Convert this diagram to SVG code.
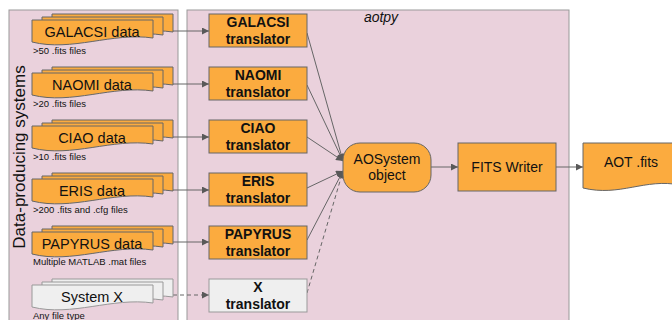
<svg xmlns="http://www.w3.org/2000/svg" xmlns:xlink="http://www.w3.org/1999/xlink" width="672" height="320" viewBox="0 0 672 320">
<style>
text{font-family:"Liberation Sans",Arial,sans-serif;fill:#111}
.panel{fill:#ead1dc;stroke:#999;stroke-width:1}
.or{fill:#fbab3f;stroke:#666;stroke-width:1}
.gr{fill:#efefef;stroke:#999;stroke-width:1}
.lbl{font-size:14px;text-anchor:middle}
.b{font-size:14px;font-weight:bold;text-anchor:middle}
.cap{font-size:9.5px}
.ln{fill:none;stroke:#666;stroke-width:1}
.dash{stroke-dasharray:4 3}
</style>
<defs>
<path id="doc" d="M0,0 H121 V18 C80,12 40,32 0,22 Z"/>
<marker id="ah" viewBox="0 0 10 10" refX="10" refY="5" markerWidth="8" markerHeight="7" markerUnits="userSpaceOnUse" orient="auto"><path d="M0,0 L10,5 L0,10 Z" fill="#595959"/></marker>
</defs>
<rect class="panel" x="9" y="10" width="169" height="320"/>
<rect class="panel" x="187" y="10" width="382" height="320"/>
<text x="25" y="157" transform="rotate(-90 25 157)" style="font-size:17px;text-anchor:middle">Data-producing systems</text>
<text x="381" y="22" style="font-size:14px;font-style:italic;text-anchor:middle">aotpy</text>

<g id="connectors">
<line class="ln" x1="173" y1="31" x2="209" y2="31" marker-end="url(#ah)"/>
<line class="ln" x1="173" y1="84" x2="209" y2="84" marker-end="url(#ah)"/>
<line class="ln" x1="173" y1="137" x2="209" y2="137" marker-end="url(#ah)"/>
<line class="ln" x1="173" y1="190" x2="209" y2="190" marker-end="url(#ah)"/>
<line class="ln" x1="173" y1="242" x2="209" y2="242" marker-end="url(#ah)"/>
<line class="ln dash" x1="173" y1="295" x2="209" y2="295" marker-end="url(#ah)"/>
<line class="ln" x1="307" y1="33" x2="343" y2="161" marker-end="url(#ah)"/>
<line class="ln" x1="307" y1="85" x2="343" y2="161" marker-end="url(#ah)"/>
<line class="ln" x1="307" y1="137" x2="343" y2="161" marker-end="url(#ah)"/>
<line class="ln" x1="307" y1="188" x2="343" y2="171" marker-end="url(#ah)"/>
<line class="ln" x1="307" y1="240" x2="343" y2="171" marker-end="url(#ah)"/>
<line class="ln dash" x1="307" y1="293" x2="343" y2="171" marker-end="url(#ah)"/>
<line class="ln" x1="431" y1="167" x2="458" y2="167" marker-end="url(#ah)"/>
<line class="ln" x1="556" y1="167" x2="583" y2="167" marker-end="url(#ah)"/>
</g>

<g id="galacsi-data">
<use xlink:href="#doc" class="or" x="52" y="14"/><use xlink:href="#doc" class="or" x="42" y="17"/><use xlink:href="#doc" class="or" x="32" y="20"/>
<text class="lbl" x="92" y="37" style="font-size:14.5px">GALACSI data</text>
<text class="cap" x="33" y="54">&gt;50 .fits files</text>
</g>
<g id="naomi-data">
<use xlink:href="#doc" class="or" x="52" y="67"/><use xlink:href="#doc" class="or" x="42" y="70"/><use xlink:href="#doc" class="or" x="32" y="73"/>
<text class="lbl" x="92" y="90" style="font-size:14.5px">NAOMI data</text>
<text class="cap" x="33" y="107">&gt;20 .fits files</text>
</g>
<g id="ciao-data">
<use xlink:href="#doc" class="or" x="52" y="120"/><use xlink:href="#doc" class="or" x="42" y="123"/><use xlink:href="#doc" class="or" x="32" y="126"/>
<text class="lbl" x="92" y="143" style="font-size:14.5px">CIAO data</text>
<text class="cap" x="33" y="160">&gt;10 .fits files</text>
</g>
<g id="eris-data">
<use xlink:href="#doc" class="or" x="52" y="173"/><use xlink:href="#doc" class="or" x="42" y="176"/><use xlink:href="#doc" class="or" x="32" y="179"/>
<text class="lbl" x="92" y="196" style="font-size:14.5px">ERIS data</text>
<text class="cap" x="33" y="213">&gt;200 .fits and .cfg files</text>
</g>
<g id="papyrus-data">
<use xlink:href="#doc" class="or" x="52" y="226"/><use xlink:href="#doc" class="or" x="42" y="229"/><use xlink:href="#doc" class="or" x="32" y="232"/>
<text class="lbl" x="92" y="249" style="font-size:14.5px">PAPYRUS data</text>
<text class="cap" x="33" y="265">Multiple MATLAB .mat files</text>
</g>
<g id="system-x">
<use xlink:href="#doc" class="gr" x="52" y="279"/><use xlink:href="#doc" class="gr" x="42" y="282"/><use xlink:href="#doc" class="gr" x="32" y="285"/>
<text class="lbl" x="92" y="302" style="font-size:14.5px">System X</text>
<text class="cap" x="33" y="319">Any file type</text>
</g>

<g id="galacsi-translator"><rect class="or" x="209" y="14" width="98" height="33"/><text class="b" x="258" y="27">GALACSI</text><text class="b" x="258" y="44">translator</text></g>
<g id="naomi-translator"><rect class="or" x="209" y="67" width="98" height="33"/><text class="b" x="258" y="80">NAOMI</text><text class="b" x="258" y="97">translator</text></g>
<g id="ciao-translator"><rect class="or" x="209" y="120" width="98" height="33"/><text class="b" x="258" y="133">CIAO</text><text class="b" x="258" y="150">translator</text></g>
<g id="eris-translator"><rect class="or" x="209" y="173" width="98" height="33"/><text class="b" x="258" y="186">ERIS</text><text class="b" x="258" y="203">translator</text></g>
<g id="papyrus-translator"><rect class="or" x="209" y="226" width="98" height="33"/><text class="b" x="258" y="239">PAPYRUS</text><text class="b" x="258" y="256">translator</text></g>
<g id="x-translator"><rect class="gr" x="209" y="279" width="98" height="33"/><text class="b" x="258" y="292">X</text><text class="b" x="258" y="309">translator</text></g>

<g id="aosystem"><rect class="or" x="343" y="143" width="88" height="49" rx="17"/><text class="lbl" x="387" y="164">AOSystem</text><text class="lbl" x="387" y="180">object</text></g>
<g id="fits-writer"><rect class="or" x="458" y="143" width="98" height="48"/><text class="lbl" x="507" y="172">FITS Writer</text></g>
<g id="aot-fits"><path class="or" d="M583,143 H680 V185 C645,178 620,197 583,188 Z"/><text class="lbl" x="631" y="167">AOT .fits</text></g>
</svg>
